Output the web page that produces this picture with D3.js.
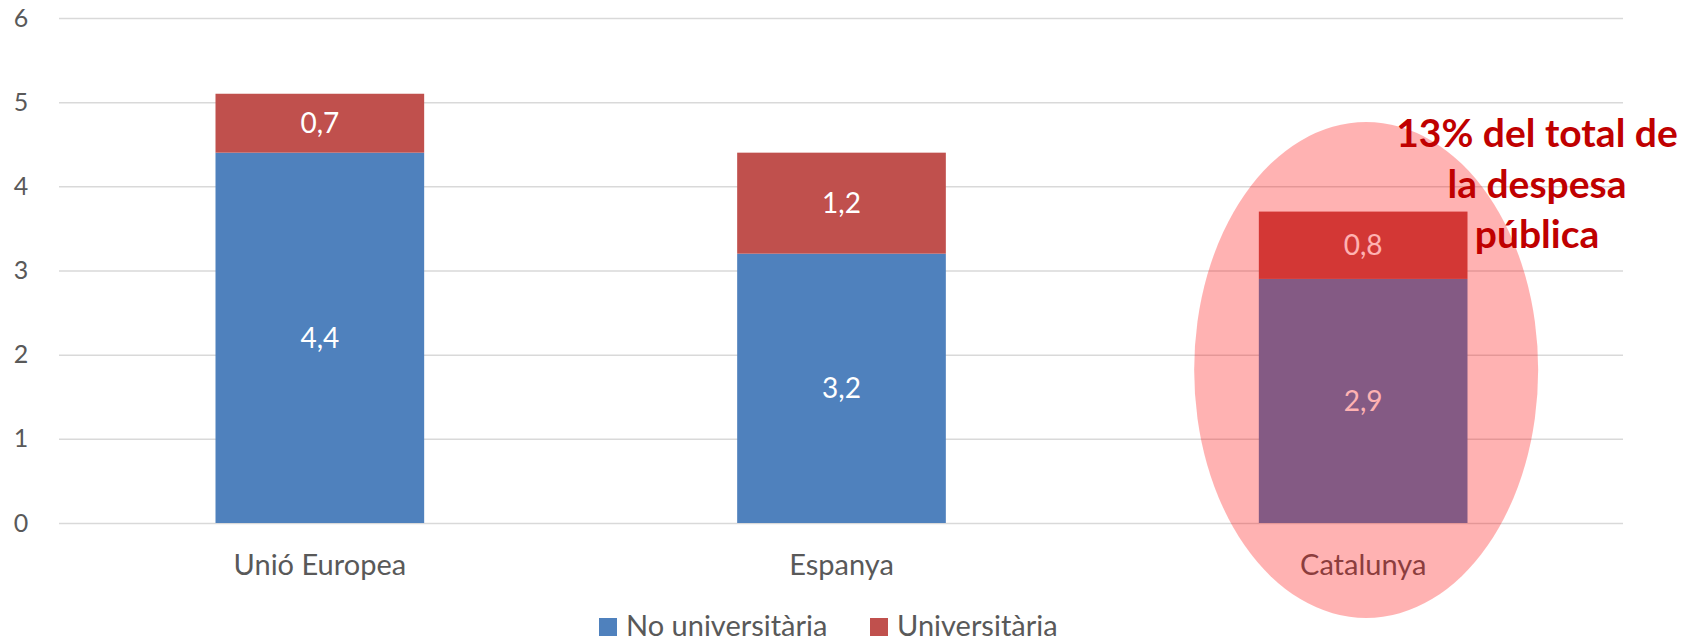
<!DOCTYPE html>
<html>
<head>
<meta charset="utf-8">
<script src="https://cdn.jsdelivr.net/npm/d3@7"></script>
<style>
  body { margin: 0; background: #fff; }
  svg text { font-family: Lato, "Noto Sans", sans-serif; }
</style>
</head>
<body>
<div class="visualization"></div>
<script>
// chart data
var categories = ["Unió Europea", "Espanya", "Catalunya"];
var seriesNames = ["No universitària", "Universitària"];
var noUniv = [4.4, 3.2, 2.9];
var univ = [0.7, 1.2, 0.8];
var yTicks = [0, 1, 2, 3, 4, 5, 6];
var noteLines = ["13% del total de", "la despesa", "pública"];

var width = 1696;
var height = 643;
var colors = ["#4F81BD", "#C0504D"];

var svg = d3.select(".visualization").append("svg")
    .attr("width", width)
    .attr("height", height);

// scales
var xScale = d3.scaleBand()
    .domain(categories)
    .range([59, 1624])
    .paddingInner(0.6)
    .paddingOuter(0.3);
var yScale = d3.scaleLinear().domain([0, 6]).range([523, 18]);

// grid lines + y labels
var yAxis = d3.axisLeft(yScale)
    .tickValues(yTicks)
    .tickSize(-(1623 - 59))
    .tickFormat(d3.format("d"));
var gy = svg.append("g")
    .attr("transform", "translate(59,0)")
    .call(yAxis);
gy.select(".domain").remove();
gy.selectAll(".tick line").attr("stroke", "#D9D9D9").attr("stroke-width", 1.5);
gy.selectAll(".tick text")
    .attr("fill", "#595959")
    .attr("font-size", 25)
    .attr("text-anchor", "middle")
    .attr("x", -38);

// stack the two series
var rows = categories.map(function(c, i){
    return {cat: c, a: noUniv[i], b: univ[i]};
});
var stack = d3.stack().keys(["a", "b"]);
var layers = stack(rows);

var bars = svg.append("g");
layers.forEach(function(layer, li){
    var key = li == 0 ? "a" : "b";
    bars.selectAll(".bar" + li)
        .data(layer)
        .enter().append("rect")
        .attr("x", function(d){ return xScale(d.data.cat); })
        .attr("width", xScale.bandwidth())
        .attr("y", function(d){ return yScale(d[1]); })
        .attr("height", function(d){ return yScale(d[0]) - yScale(d[1]); })
        .attr("fill", colors[li]);
    // value labels
    bars.selectAll(".lbl" + li)
        .data(layer)
        .enter().append("text")
        .attr("x", function(d){ return xScale(d.data.cat) + xScale.bandwidth() / 2; })
        .attr("y", function(d){ return (yScale(d[0]) + yScale(d[1])) / 2; })
        .attr("dy", "0.36em")
        .attr("text-anchor", "middle")
        .attr("font-size", 28)
        .attr("fill", "#fff")
        .text(function(d){ return String(d.data[key]).replace(".", ","); });
});

// category labels
var xAxis = d3.axisBottom(xScale).tickSize(0).tickPadding(0);
var gx = svg.append("g")
    .attr("transform", "translate(0,523)")
    .call(xAxis);
gx.select(".domain").remove();
gx.selectAll(".tick text")
    .attr("fill", "#595959")
    .attr("font-size", 29)
    .attr("y", 52)
    .attr("dy", 0);

// highlight ellipse over Catalunya (drawn on top)
var catX = xScale("Catalunya") + xScale.bandwidth() / 2;
svg.append("ellipse")
    .attr("cx", catX + 3)
    .attr("cy", 370)
    .attr("rx", 172)
    .attr("ry", 248)
    .attr("fill", "#FF0000")
    .attr("fill-opacity", 0.3);

// annotation
var note = svg.append("text")
    .attr("text-anchor", "middle")
    .attr("font-size", 39)
    .attr("font-weight", "bold")
    .attr("fill", "#C00000");
noteLines.forEach(function(t, i){
    note.append("tspan")
        .attr("x", 1537)
        .attr("y", 147 + i * 50.5)
        .text(t);
});

// legend
var legendX = [599, 870];
var legend = svg.append("g");
seriesNames.forEach(function(name, i){
    legend.append("rect")
        .attr("x", legendX[i])
        .attr("y", 618)
        .attr("width", 18)
        .attr("height", 18)
        .attr("fill", colors[i]);
    legend.append("text")
        .attr("x", legendX[i] + 27)
        .attr("y", 636)
        .attr("font-size", 29)
        .attr("fill", "#595959")
        .text(name);
});
</script>
</body>
</html>
